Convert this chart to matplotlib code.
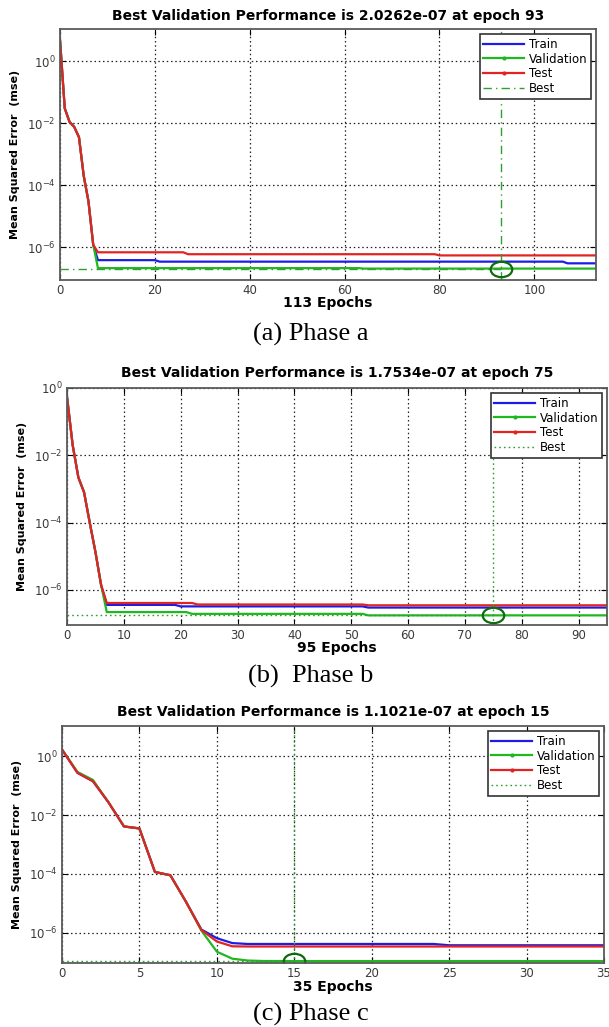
import matplotlib
matplotlib.use('Agg')
import matplotlib.pyplot as plt
from matplotlib.path import Path
from matplotlib.lines import Line2D
from matplotlib.ticker import NullLocator, FixedLocator

plt.rcParams['font.family'] = 'DejaVu Sans'

# ---- phase a : 113 epochs, best 93
ep_train_a = [0, 1, 2, 3, 4, 5, 6, 7, 8, 20, 21, 106, 107, 113]
train_a = [4.8, 0.03, 0.011, 0.0075, 0.0035, 2e-4, 3e-5, 1.2e-6, 3.8e-7, 3.8e-7, 3.4e-7, 3.4e-7, 3.0e-7, 3.0e-7]
ep_val_a = [0, 1, 2, 3, 4, 5, 6, 7, 8, 63, 64, 113]
val_a = [4.8, 0.03, 0.011, 0.0075, 0.0035, 2e-4, 3e-5, 1.2e-6, 2.1e-7, 2.1e-7, 2.03e-7, 2.03e-7]
ep_test_a = [0, 1, 2, 3, 4, 5, 6, 7, 8, 26, 27, 79, 80, 113]
test_a = [4.8, 0.03, 0.011, 0.0075, 0.0035, 2e-4, 3e-5, 1.2e-6, 6.8e-7, 6.8e-7, 5.9e-7, 5.9e-7, 5.4e-7, 5.4e-7]
best_ep_a, best_a = 93, 2.0262e-07

# ---- phase b : 95 epochs, best 75
ep_train_b = [0, 1, 2, 3, 4, 5, 6, 7, 19, 20, 52, 53, 95]
train_b = [0.55, 0.02, 2.2e-3, 8e-4, 1e-4, 1.35e-5, 1.4e-6, 3.6e-7, 3.6e-7, 3.25e-7, 3.25e-7, 3.0e-7, 3.0e-7]
ep_val_b = [0, 1, 2, 3, 4, 5, 6, 7, 21, 22, 52, 53, 95]
val_b = [0.55, 0.02, 2.2e-3, 8e-4, 1e-4, 1.35e-5, 1.4e-6, 2.2e-7, 2.2e-7, 1.95e-7, 1.95e-7, 1.76e-7, 1.76e-7]
ep_test_b = [0, 1, 2, 3, 4, 5, 6, 7, 22, 23, 52, 53, 95]
test_b = [0.55, 0.02, 2.2e-3, 8e-4, 1e-4, 1.35e-5, 1.4e-6, 4.1e-7, 4.1e-7, 3.7e-7, 3.7e-7, 3.5e-7, 3.5e-7]
best_ep_b, best_b = 75, 1.7534e-07

# ---- phase c : 35 epochs, best 15
ep_train_c = [0, 1, 2, 3, 4, 5, 6, 7, 8, 9, 10, 11, 12, 24, 25, 35]
train_c = [1.67, 0.27, 0.14, 0.027, 0.0041, 0.0035, 1.17e-4, 9e-5, 1.15e-5, 1.3e-6, 6.6e-7, 4.5e-7, 4.2e-7, 4.2e-7, 3.8e-7, 3.8e-7]
ep_val_c = [0, 1, 2, 3, 4, 5, 6, 7, 8, 9, 10, 11, 12, 13, 15, 35]
val_c = [1.67, 0.29, 0.155, 0.027, 0.0041, 0.0035, 1.17e-4, 9e-5, 1.15e-5, 1.2e-6, 2.3e-7, 1.33e-7, 1.15e-7, 1.11e-7, 1.1021e-7, 1.103e-7]
ep_test_c = [0, 1, 2, 3, 4, 5, 6, 7, 8, 9, 10, 11, 12, 35]
test_c = [1.67, 0.27, 0.14, 0.027, 0.0041, 0.0035, 1.17e-4, 9e-5, 1.15e-5, 1.26e-6, 5.1e-7, 3.5e-7, 3.45e-7, 3.45e-7]
best_ep_c, best_c = 15, 1.1021e-07

xticks_a = [0, 20, 40, 60, 80, 100]
xticks_b = [0, 10, 20, 30, 40, 50, 60, 70, 80, 90]
xticks_c = [0, 5, 10, 15, 20, 25, 30, 35]
yticks = [1e-6, 1e-4, 1e-2, 1e0]

BLUE = '#1c1ce6'
GREEN = '#1fb81f'
RED = '#e32222'
BESTC = '#2f9f2f'
CIRC = '#0d6b0d'

W, H = 609, 1027
fig = plt.figure(figsize=(W / 100, H / 100), dpi=100)

# flattened ellipse for the "best" circle (picture is stretched sideways)
ell = Path(Path.unit_circle().vertices * [1.4, 1.0], Path.unit_circle().codes)


def panel(l, r, t, b):
    return fig.add_axes([l / W, 1 - b / H, (r - l) / W, (b - t) / H])


def draw(ax, tr, va, te, best_ep, best_val, n_ep, xt, ylim, best_ls, px):
    h = px[0]
    ax.set_yscale('log')
    ax.plot(tr[0], tr[1], color=BLUE, lw=1.6)
    ax.plot(va[0], va[1], color=GREEN, lw=1.6)
    ax.plot(te[0], te[1], color=RED, lw=1.6)
    ax.axvline(best_ep, color=BESTC, lw=1.0, ls=best_ls)
    ax.hlines(best_val, 0, best_ep, color=BESTC, lw=1.0, ls=best_ls)
    ax.plot(best_ep, best_val, marker=ell, ms=15.5, mfc='none', mec=CIRC, mew=1.6)

    ax.set_xlim(0, n_ep)
    ax.set_ylim(*ylim)
    ax.xaxis.set_major_locator(FixedLocator(xt))
    ax.yaxis.set_major_locator(FixedLocator(yticks))
    ax.yaxis.set_minor_locator(NullLocator())
    ax.grid(True, ls=(0, (1.2, 2.2)), color='#222222', lw=0.9)
    ax.tick_params(direction='in', length=4, width=0.8, top=True, right=True,
                   labelsize=8.5, labelcolor='#3a3a3a', pad=3)
    for s in ax.spines.values():
        s.set_color('#5a5a5a')
        s.set_linewidth(1.3)

    ax.set_title('Best Validation Performance is %.4e at epoch %d' % (best_val, best_ep),
                 fontsize=10, fontweight='bold', va='center', y=1 + px[1] / h, pad=0)
    ax.set_xlabel('%d Epochs' % n_ep, fontsize=10, fontweight='bold', va='center')
    ax.xaxis.set_label_coords(0.5, -px[2] / h)
    ax.set_ylabel('Mean Squared Error  (mse)', fontsize=8, fontweight='bold', va='center')
    ax.yaxis.set_label_coords(px[3], 0.5)

    handles = [Line2D([], [], color=BLUE, lw=1.6),
               Line2D([], [], color=GREEN, lw=1.6, marker='.', ms=4),
               Line2D([], [], color=RED, lw=1.6, marker='.', ms=4),
               Line2D([], [], color=BESTC, lw=1.0, ls=best_ls)]
    leg = ax.legend(handles, ['Train', 'Validation', 'Test', 'Best'], loc='upper right',
                    fontsize=8.5, fancybox=False, framealpha=1, edgecolor='#333333',
                    handlelength=3.5, handletextpad=0.35, labelspacing=0.15,
                    borderpad=0.3, borderaxespad=0.45)
    leg.get_frame().set_linewidth(1.2)


ax_a = panel(60, 596, 29, 280)
draw(ax_a, (ep_train_a, train_a), (ep_val_a, val_a), (ep_test_a, test_a),
     best_ep_a, best_a, 113, xticks_a, (8.7e-8, 10.8), (0, (6, 3, 1, 3)),
     (251, 13, 23, -44.5 / 536))

ax_b = panel(67, 607, 388, 625)
draw(ax_b, (ep_train_b, train_b), (ep_val_b, val_b), (ep_test_b, test_b),
     best_ep_b, best_b, 95, xticks_b, (9.1e-8, 1.0), (0, (1.2, 2.2)),
     (237, 15, 23, -45 / 540))

ax_c = panel(62, 604, 726, 963)
draw(ax_c, (ep_train_c, train_c), (ep_val_c, val_c), (ep_test_c, test_c),
     best_ep_c, best_c, 35, xticks_c, (9.5e-8, 10.5), (0, (1.2, 2.2)),
     (237, 14, 24, -44.5 / 542))

for label, y in [('(a) Phase a', 334), ('(b)  Phase b', 676), ('(c) Phase c', 1014)]:
    fig.text(311 / W, 1 - y / H, label, family='Liberation Serif', fontsize=19,
             ha='center', va='center')

fig.savefig('out.png', dpi=100)
